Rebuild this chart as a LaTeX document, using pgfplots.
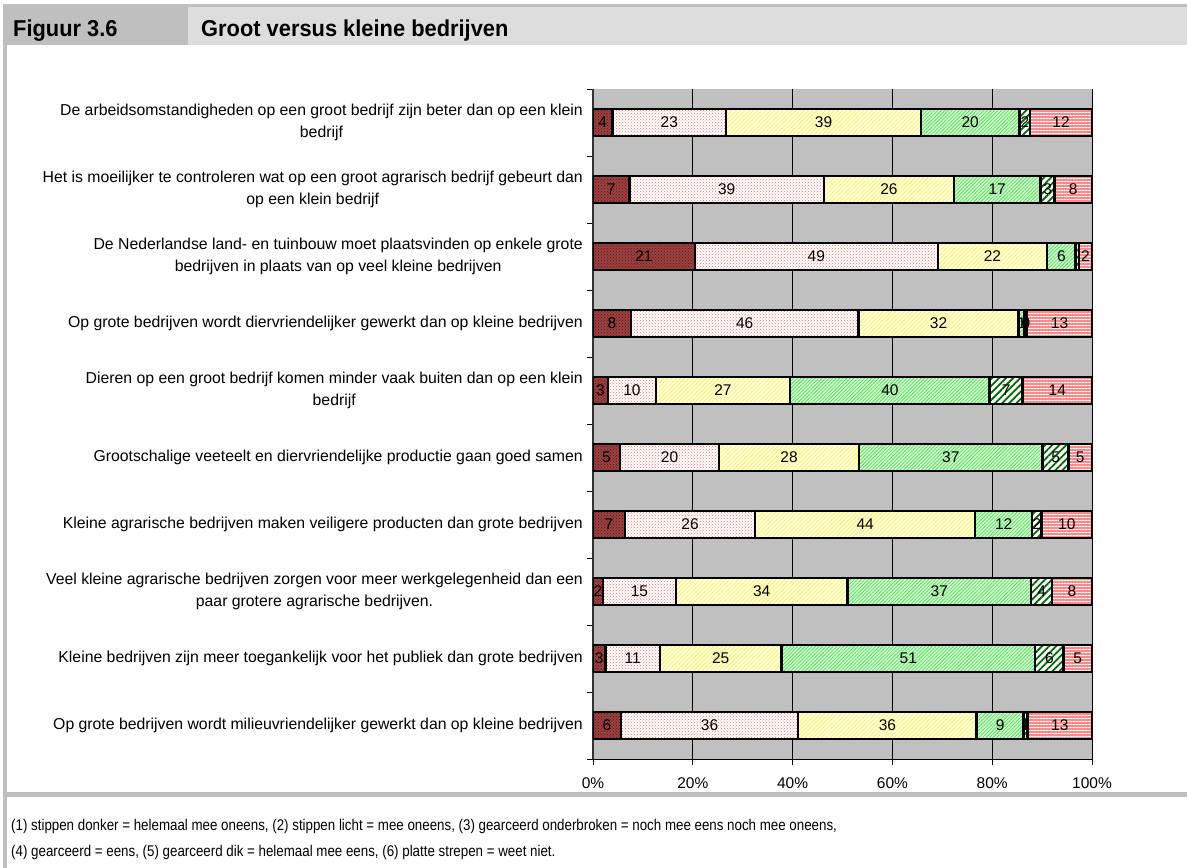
\documentclass[border=0pt]{standalone}
\usepackage{fontspec}
\setmainfont{Liberation Sans}
\newfontfamily\condfont[FakeStretch=0.86]{Liberation Sans}
\newfontfamily\headfont[FakeStretch=0.95]{Liberation Sans}
\usepackage{pgfplots}
\pgfplotsset{compat=1.18}
\usepackage{pgfplotstable}
\usetikzlibrary{patterns,patterns.meta}

\definecolor{frame}{RGB}{191,191,191}
\definecolor{titlebg}{RGB}{221,221,221}
\definecolor{plotbg}{RGB}{192,192,192}
\definecolor{darkred}{RGB}{155,65,65}
\definecolor{darkreddot}{RGB}{90,20,20}
\definecolor{pinkdot}{RGB}{255,110,110}
\definecolor{paleyellow}{RGB}{255,255,215}
\definecolor{yellowline}{RGB}{250,240,100}
\definecolor{lightgreen}{RGB}{200,250,200}
\definecolor{greenline}{RGB}{90,210,90}
\definecolor{darkgreen}{RGB}{0,105,0}
\definecolor{salmon}{RGB}{255,135,135}

% widths are read from the bars, labels are the printed percentages
\pgfplotstableread{
pos a    b    c    d    e   f    la lb lc ld le lf
0   3.9  22.8 39.0 19.8 2.1 12.4 4  23 39 20 2  12
1   7.3  39.0 26.0 17.4 2.8 7.5  7  39 26 17 3  8
2   20.4 48.7 21.9 5.7  0.7 2.6  21 49 22 6  {} 2
3   7.6  45.6 32.1 1.2  0.5 13.0 8  46 32 1  0  13
4   3.0  9.6  26.9 40.0 6.6 13.9 3  10 27 40 7  14
5   5.4  19.9 28.0 36.8 5.2 4.7  5  20 28 37 5  5
6   6.4  26.1 44.1 11.4 1.9 10.1 7  26 44 12 2  10
7   2.0  14.6 34.4 36.8 4.2 8.0  2  15 34 37 4  8
8   2.5  10.9 24.4 50.8 5.7 5.7  3  11 25 51 6  5
9   5.6  35.5 35.8 9.4  0.8 12.9 6  36 36 9  1  13
}\data

\begin{document}
\begin{tikzpicture}
\useasboundingbox (0pt,0pt) rectangle (1187pt,868pt);
% frame and header
\fill[frame] (3pt,0pt) rectangle (7pt,864pt);
\fill[frame] (3pt,823pt) rectangle (1187pt,864pt);
\fill[titlebg] (188pt,823pt) rectangle (1187pt,861pt);
\node[anchor=base west,inner sep=0pt] at (13pt,831pt)
  {\headfont\bfseries\fontsize{23}{26}\selectfont Figuur 3.6};
\node[anchor=base west,inner sep=0pt] at (201pt,831pt)
  {\headfont\bfseries\fontsize{23}{26}\selectfont Groot versus kleine bedrijven};
\fill[frame] (3pt,71pt) rectangle (1187pt,76pt);
\node[anchor=base west,inner sep=0pt] at (11pt,37pt)
  {\condfont\fontsize{15.5}{18}\selectfont (1) stippen donker = helemaal mee oneens, (2) stippen licht = mee oneens, (3) gearceerd onderbroken = noch mee eens noch mee oneens,};
\node[anchor=base west,inner sep=0pt] at (11pt,11pt)
  {\condfont\fontsize{15.5}{18}\selectfont (4) gearceerd = eens, (5) gearceerd dik = helemaal mee eens, (6) platte strepen = weet niet.};

\begin{axis}[
    at={(593pt,109pt)}, anchor=south west,
    scale only axis,
    width=499pt, height=670pt,
    xbar stacked,
    bar width=27pt,
    xmin=0, xmax=100,
    ymin=-0.5, ymax=9.5,
    y dir=reverse,
    enlargelimits=false,
    axis background/.style={fill=plotbg},
    axis x line*=bottom,
    axis y line*=left,
    x axis line style={black,line width=1pt},
    y axis line style={black!80,line width=1.8pt},
    tick align=outside,
    major tick length=6pt,
    minor tick length=6pt,
    xtick={0,20,...,100},
    xticklabel={\pgfmathprintnumber{\tick}\%},
    x tick style={black,line width=0.8pt},
    xmajorgrids,
    major x grid style={black,line width=0.8pt},
    ytick={0,...,9},
    minor ytick={-0.5,0.5,...,9.5},
    major y tick style={draw=none},
    minor y tick style={black,line width=0.8pt},
    yticklabels={
      {De arbeidsomstandigheden op een groot bedrijf zijn beter dan op een klein\\bedrijf},
      {Het is moeilijker te controleren wat op een groot agrarisch bedrijf gebeurt dan\\op een klein bedrijf},
      {De Nederlandse land- en tuinbouw moet plaatsvinden op enkele grote\\bedrijven in plaats van op veel kleine bedrijven},
      {Op grote bedrijven wordt diervriendelijker gewerkt dan op kleine bedrijven},
      {Dieren op een groot bedrijf komen minder vaak buiten dan op een klein\\bedrijf},
      {Grootschalige veeteelt en diervriendelijke productie gaan goed samen},
      {Kleine agrarische bedrijven maken veiligere producten dan grote bedrijven},
      {Veel kleine agrarische bedrijven zorgen voor meer werkgelegenheid dan een\\paar grotere agrarische bedrijven.},
      {Kleine bedrijven zijn meer toegankelijk voor het publiek dan grote bedrijven},
      {Op grote bedrijven wordt milieuvriendelijker gewerkt dan op kleine bedrijven}},
    yticklabel style={font=\fontsize{15.8}{21.5}\selectfont,align=center,inner sep=0pt,xshift=-4pt},
    xticklabel style={font=\fontsize{15.5}{18}\selectfont,yshift=-9pt},
    /pgf/number format/assume math mode=true,
    point meta=explicit symbolic,
    nodes near coords,
    every node near coord/.append style={anchor=center,font=\fontsize{15.5}{18}\selectfont,black},
]
\addplot[preaction={fill=darkred},pattern=crosshatch dots,pattern color=darkreddot,draw=black,line width=2.5pt]
  table[x=a,y=pos,meta=la]{\data};
\addplot[preaction={fill=white},pattern=crosshatch dots,pattern color=pinkdot,draw=black,line width=2.5pt]
  table[x=b,y=pos,meta=lb]{\data};
\addplot[preaction={fill=paleyellow},pattern={Lines[angle=45,distance=3pt,line width=0.6pt]},pattern color=yellowline,draw=black,line width=2.5pt]
  table[x=c,y=pos,meta=lc]{\data};
\addplot[preaction={fill=lightgreen},pattern={Lines[angle=45,distance=2.5pt,line width=0.6pt]},pattern color=greenline,draw=black,line width=2.5pt]
  table[x=d,y=pos,meta=ld]{\data};
\addplot[preaction={fill=white},pattern={Lines[angle=45,distance=5pt,line width=1.8pt]},pattern color=darkgreen,draw=black,line width=2.5pt]
  table[x=e,y=pos,meta=le]{\data};
\addplot[preaction={fill=salmon},pattern={Lines[angle=0,distance=3pt,line width=0.9pt]},pattern color=white,draw=black,line width=2.5pt]
  table[x=f,y=pos,meta=lf]{\data};
\end{axis}
\end{tikzpicture}
\end{document}
